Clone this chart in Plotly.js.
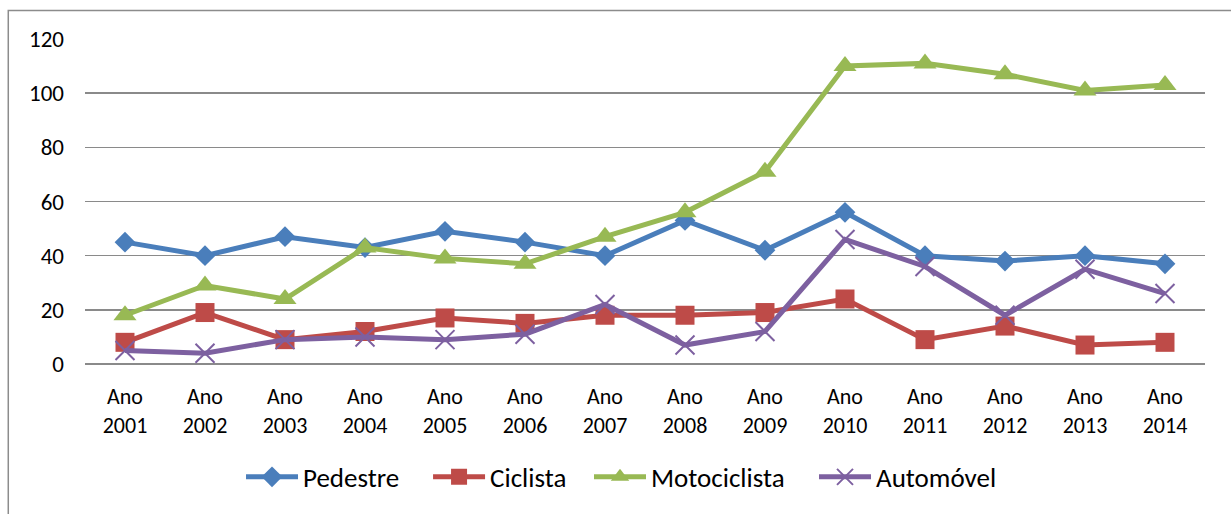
<!DOCTYPE html>
<html>
<head>
<meta charset="utf-8">
<script src="https://cdn.plot.ly/plotly-3.0.1.min.js"></script>
<style>html,body{margin:0;padding:0;background:#fff;}#chart{width:1231px;height:514px;}</style>
</head>
<body>
<div id="chart"></div>
<script>
const categories = ["Ano<br>2001","Ano<br>2002","Ano<br>2003","Ano<br>2004","Ano<br>2005","Ano<br>2006","Ano<br>2007","Ano<br>2008","Ano<br>2009","Ano<br>2010","Ano<br>2011","Ano<br>2012","Ano<br>2013","Ano<br>2014"];
const pedestre = [45, 40, 47, 43, 49, 45, 40, 53, 42, 56, 40, 38, 40, 37];
const ciclista = [8, 19, 9, 12, 17, 15, 18, 18, 19, 24, 9, 14, 7, 8];
const motociclista = [18, 29, 24, 43, 39, 37, 47, 56, 71, 110, 111, 107, 101, 103];
const automovel = [5, 4, 9, 10, 9, 11, 22, 7, 12, 46, 36, 18, 35, 26];
const yTicks = [0, 20, 40, 60, 80, 100, 120];

const FONT = "Carlito, Calibri, Lato, sans-serif";

function series(name, y, color, symbol, size, legendId, mline) {
  return {
    type: 'scatter', mode: 'lines+markers', name: name, x: categories, y: y,
    line: {color: color, width: 5},
    marker: {symbol: symbol, size: size, color: color, line: mline || {width: 0}},
    legend: legendId,
    cliponaxis: false
  };
}

const data = [
  series('Pedestre', pedestre, '#4A7EBB', 'diamond', 16, 'legend'),
  series('Ciclista', ciclista, '#BE4B48', 'square', 19, 'legend2'),
  series('Motociclista', motociclista, '#98B954', 'triangle-up', 20, 'legend3'),
  series('Automóvel', automovel, '#7D60A0', 'x-thin-open', 19, 'legend4', {width: 2, color: '#7D60A0'})
];

function leg(x) {
  return {
    orientation: 'h', x: x, xanchor: 'left', y: -0.3486, yanchor: 'middle',
    font: {family: FONT, size: 27, color: '#000'}, itemwidth: 52,
    bgcolor: 'rgba(0,0,0,0)', borderwidth: 0
  };
}

const layout = {
  width: 1231, height: 514,
  margin: {l: 85, r: 26, t: 39, b: 148},
  paper_bgcolor: '#fff', plot_bgcolor: '#fff',
  font: {family: FONT, size: 22, color: '#000'},
  showlegend: true,
  legend: leg(0.1393),
  legend2: leg(0.3063),
  legend3: leg(0.45),
  legend4: leg(0.6509),
  xaxis: {
    type: 'category', range: [-0.5, 13.5], showgrid: false, showline: false, zeroline: false,
    ticks: '', tickfont: {family: FONT, size: 22, color: '#000'}, ticklabelstandoff: 17,
    fixedrange: true
  },
  yaxis: {
    range: [0, 120], tickvals: yTicks, ticktext: yTicks.map(String),
    showgrid: true, gridcolor: '#8a8a8a', gridwidth: 1.6,
    zeroline: true, zerolinecolor: '#8a8a8a', zerolinewidth: 1.6,
    showline: false, ticks: '', ticklabelstandoff: 20,
    tickfont: {family: FONT, size: 23, color: '#000'}, fixedrange: true
  },
  shapes: [{
    type: 'rect', xref: 'paper', yref: 'paper',
    x0: -0.0685, x1: 1.2, y0: -0.6, y1: 1.088,
    line: {color: '#8c8c8c', width: 1.5}, fillcolor: 'rgba(0,0,0,0)', layer: 'below'
  }]
};

Plotly.newPlot('chart', data, layout, {staticPlot: true, displayModeBar: false});
</script>
</body>
</html>
